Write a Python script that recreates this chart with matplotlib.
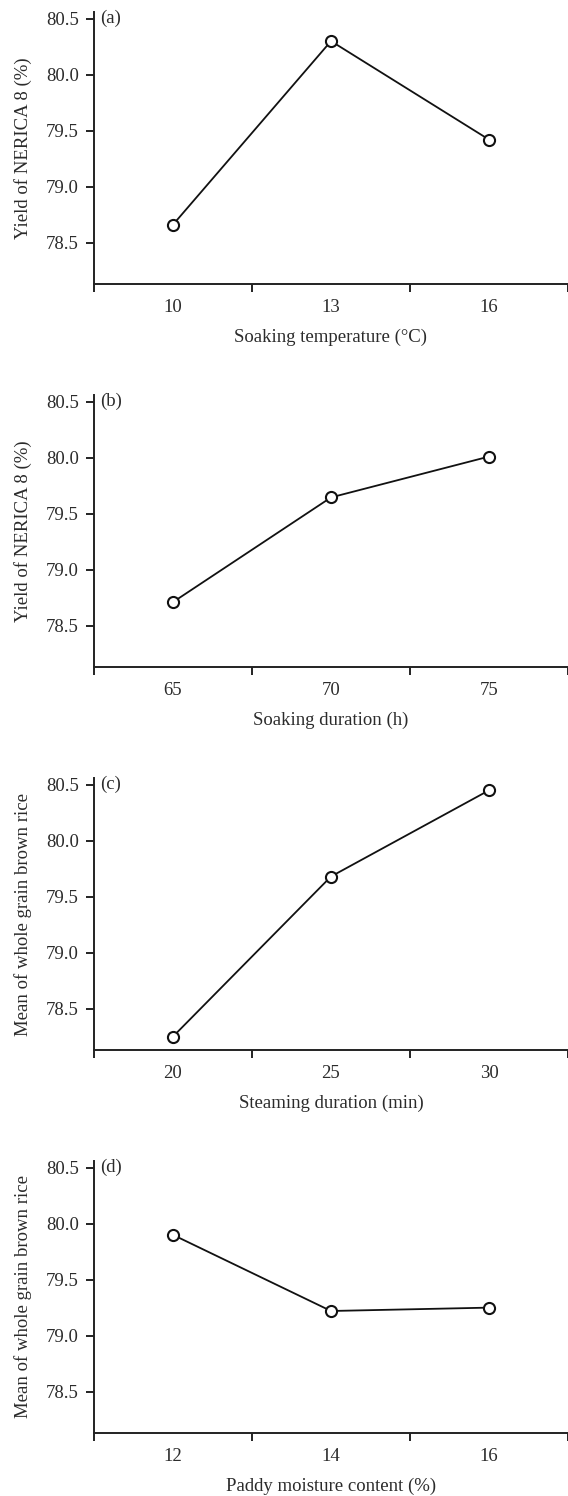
import matplotlib
matplotlib.use("Agg")
import matplotlib.pyplot as plt
from matplotlib.ticker import FixedLocator

plt.rcParams['font.family'] = ['Liberation Serif', 'DejaVu Serif']

# Factor levels and mean responses for each factor
temp_levels = ["10", "13", "16"]
temp_yield = [78.66, 80.30, 79.42]

soak_levels = ["65", "70", "75"]
soak_yield = [78.71, 79.645, 80.01]

steam_levels = ["20", "25", "30"]
steam_mean = [78.25, 79.68, 80.45]

moist_levels = ["12", "14", "16"]
moist_mean = [79.90, 79.22, 79.25]

panel_tags = ["(a)", "(b)", "(c)", "(d)"]
x_titles = ["Soaking temperature (°C)", "Soaking duration (h)",
            "Steaming duration (min)", "Paddy moisture content (%)"]
y_titles = ["Yield of NERICA 8 (%)", "Yield of NERICA 8 (%)",
            "Mean of whole grain brown rice", "Mean of whole grain brown rice"]
y_ticks = [78.5, 79.0, 79.5, 80.0, 80.5]

panels = [
    (temp_levels, temp_yield),
    (soak_levels, soak_yield),
    (steam_levels, steam_mean),
    (moist_levels, moist_mean),
]

W, H = 568, 1496
fig = plt.figure(figsize=(W / 100, H / 100), dpi=100)

axis_bottoms = [284, 667, 1050, 1433]
axis_height = 272
left_px = 94

text_color = "#2b2b2b"
spine_color = "#222222"
fs = 13.5

for i, (levels, values) in enumerate(panels):
    bottom = axis_bottoms[i]
    ax = fig.add_axes([left_px / W, 1 - bottom / H, (W - left_px) / W, axis_height / H])
    xs = list(range(len(levels)))
    ax.plot(xs, values, color="#111111", lw=1.3, marker="o", ms=8,
            mfc="white", mec="#111111", mew=1.5, zorder=3, clip_on=False)

    ax.set_xlim(-0.5, len(levels) - 0.5)
    ax.set_ylim(78.13, 80.56)

    for side in ("top", "right"):
        ax.spines[side].set_visible(False)
    for side in ("left", "bottom"):
        ax.spines[side].set_color(spine_color)
        ax.spines[side].set_linewidth(1.4)

    ax.set_xticks(xs)
    ax.set_xticklabels(levels)
    ax.xaxis.set_minor_locator(FixedLocator([x - 0.5 for x in range(len(levels) + 1)]))
    ax.tick_params(axis="x", which="major", length=0, pad=11,
                   labelsize=fs, labelcolor=text_color)
    ax.tick_params(axis="x", which="minor", length=6, width=1.4,
                   color=spine_color, direction="out")

    ax.set_yticks(y_ticks)
    ax.set_yticklabels([f"{v:.1f}" for v in y_ticks])
    ax.tick_params(axis="y", which="major", length=6, width=1.4,
                   color=spine_color, pad=5, labelsize=fs, labelcolor=text_color)

    ax.set_xlabel(x_titles[i], fontsize=fs, color=text_color, labelpad=9)
    ax.set_ylabel(y_titles[i], fontsize=fs, color=text_color, labelpad=10)

    ax.text(0.013, 80.5, panel_tags[i], transform=ax.get_yaxis_transform(),
            fontsize=fs, color=text_color, ha="left", va="center")

fig.savefig("out.png", dpi=100, facecolor="white")
